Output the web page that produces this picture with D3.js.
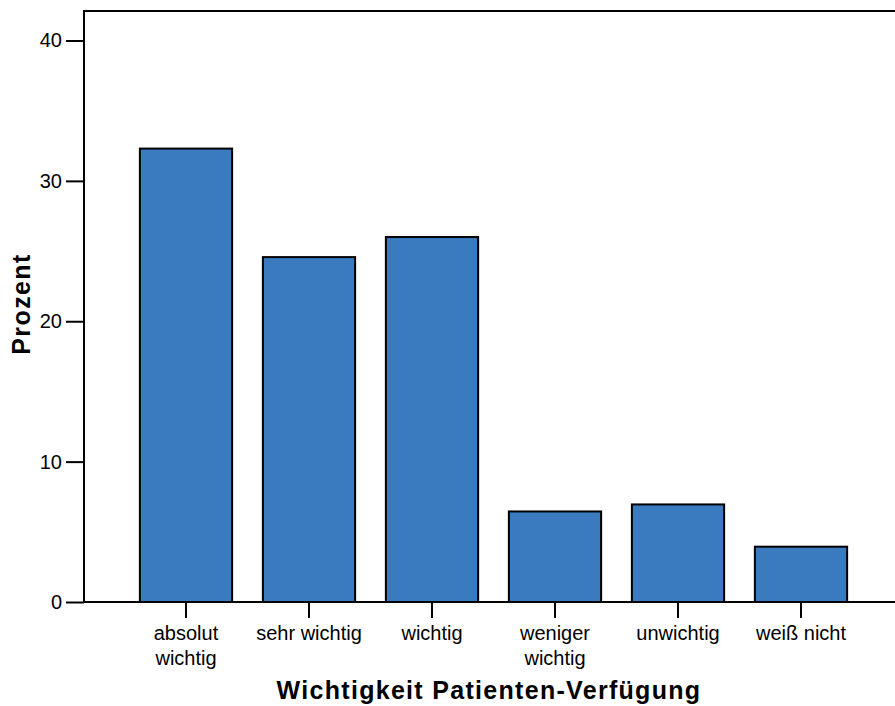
<!DOCTYPE html>
<html>
<head>
<meta charset="utf-8">
<script src="https://cdn.jsdelivr.net/npm/d3@7"></script>
<style>
  html, body { margin: 0; padding: 0; background: #fff; }
  svg { display: block; }
</style>
</head>
<body>
<svg id="chart" width="895" height="706"></svg>
<script>
const categories = [["absolut", "wichtig"], ["sehr wichtig"], ["wichtig"], ["weniger", "wichtig"], ["unwichtig"], ["weiß nicht"]];
const values = [32.3, 24.57, 26.0, 6.45, 6.95, 3.94];
const yTicks = [0, 10, 20, 30, 40];
const xTitle = "Wichtigkeit Patienten-Verfügung";
const yTitle = "Prozent";

(function () {
const svg = d3.select("#chart");
const font = "'Liberation Sans', Arial, Helvetica, sans-serif";
const pLeft = 84, pTop = 11, pBottom = 602, pRight = 897;

const keys = categories.map(c => c.join(" "));
const x = d3.scaleBand().domain(keys).range([124.5, 862.5]).paddingInner(0.25).paddingOuter(0.125);
const y = d3.scaleLinear().domain([0, 40]).range([602, 40.5]);

// bars
svg.append("g").selectAll("rect")
  .data(values)
  .join("rect")
  .attr("x", (d, i) => x(keys[i]))
  .attr("width", x.bandwidth())
  .attr("y", d => y(d))
  .attr("height", d => y(0) - y(d))
  .attr("fill", "#3a7bbf")
  .attr("stroke", "#000")
  .attr("stroke-width", 2);

// frame top line
svg.append("line").attr("x1", pLeft).attr("x2", pRight).attr("y1", pTop).attr("y2", pTop)
  .attr("stroke", "#000").attr("stroke-width", 2);

// y axis
const yAxis = d3.axisLeft(y).tickValues(yTicks).tickSize(18).tickPadding(4).tickFormat(d3.format("d"));
const gy = svg.append("g").attr("transform", `translate(${pLeft},0)`).call(yAxis);
gy.select(".domain").remove();
gy.selectAll(".tick line").attr("stroke", "#000").attr("stroke-width", 2);
gy.selectAll(".tick text").attr("font-family", font).attr("font-size", 20).attr("fill", "#000");
svg.append("line").attr("x1", pLeft).attr("x2", pLeft).attr("y1", pTop - 1).attr("y2", pBottom + 1)
  .attr("stroke", "#000").attr("stroke-width", 2);

// x axis
const xAxis = d3.axisBottom(x).tickSize(16).tickFormat(() => "");
const gx = svg.append("g").attr("transform", `translate(0,${pBottom})`).call(xAxis);
gx.select(".domain").remove();
gx.selectAll(".tick line").attr("stroke", "#000").attr("stroke-width", 2);
gx.selectAll(".tick text").remove();
gx.selectAll(".tick").each(function(d, i) {
  const t = d3.select(this).append("text")
    .attr("text-anchor", "middle")
    .attr("font-family", font)
    .attr("font-size", 20)
    .attr("fill", "#000");
  categories[i].forEach((line, j) => {
    t.append("tspan").attr("x", 0).attr("y", 38 + j * 25).text(line);
  });
});
svg.append("line").attr("x1", pLeft - 1).attr("x2", pRight).attr("y1", pBottom).attr("y2", pBottom)
  .attr("stroke", "#000").attr("stroke-width", 2);

// titles
svg.append("text")
  .attr("x", 489).attr("y", 699)
  .attr("text-anchor", "middle")
  .attr("font-family", font).attr("font-size", 25).attr("font-weight", "bold")
  .attr("letter-spacing", 1.3)
  .text(xTitle);

svg.append("text")
  .attr("transform", "translate(30,304) rotate(-90)")
  .attr("text-anchor", "middle")
  .attr("font-family", font).attr("font-size", 25).attr("font-weight", "bold")
  .attr("letter-spacing", 1.4)
  .text(yTitle);
})();
</script>
</body>
</html>
